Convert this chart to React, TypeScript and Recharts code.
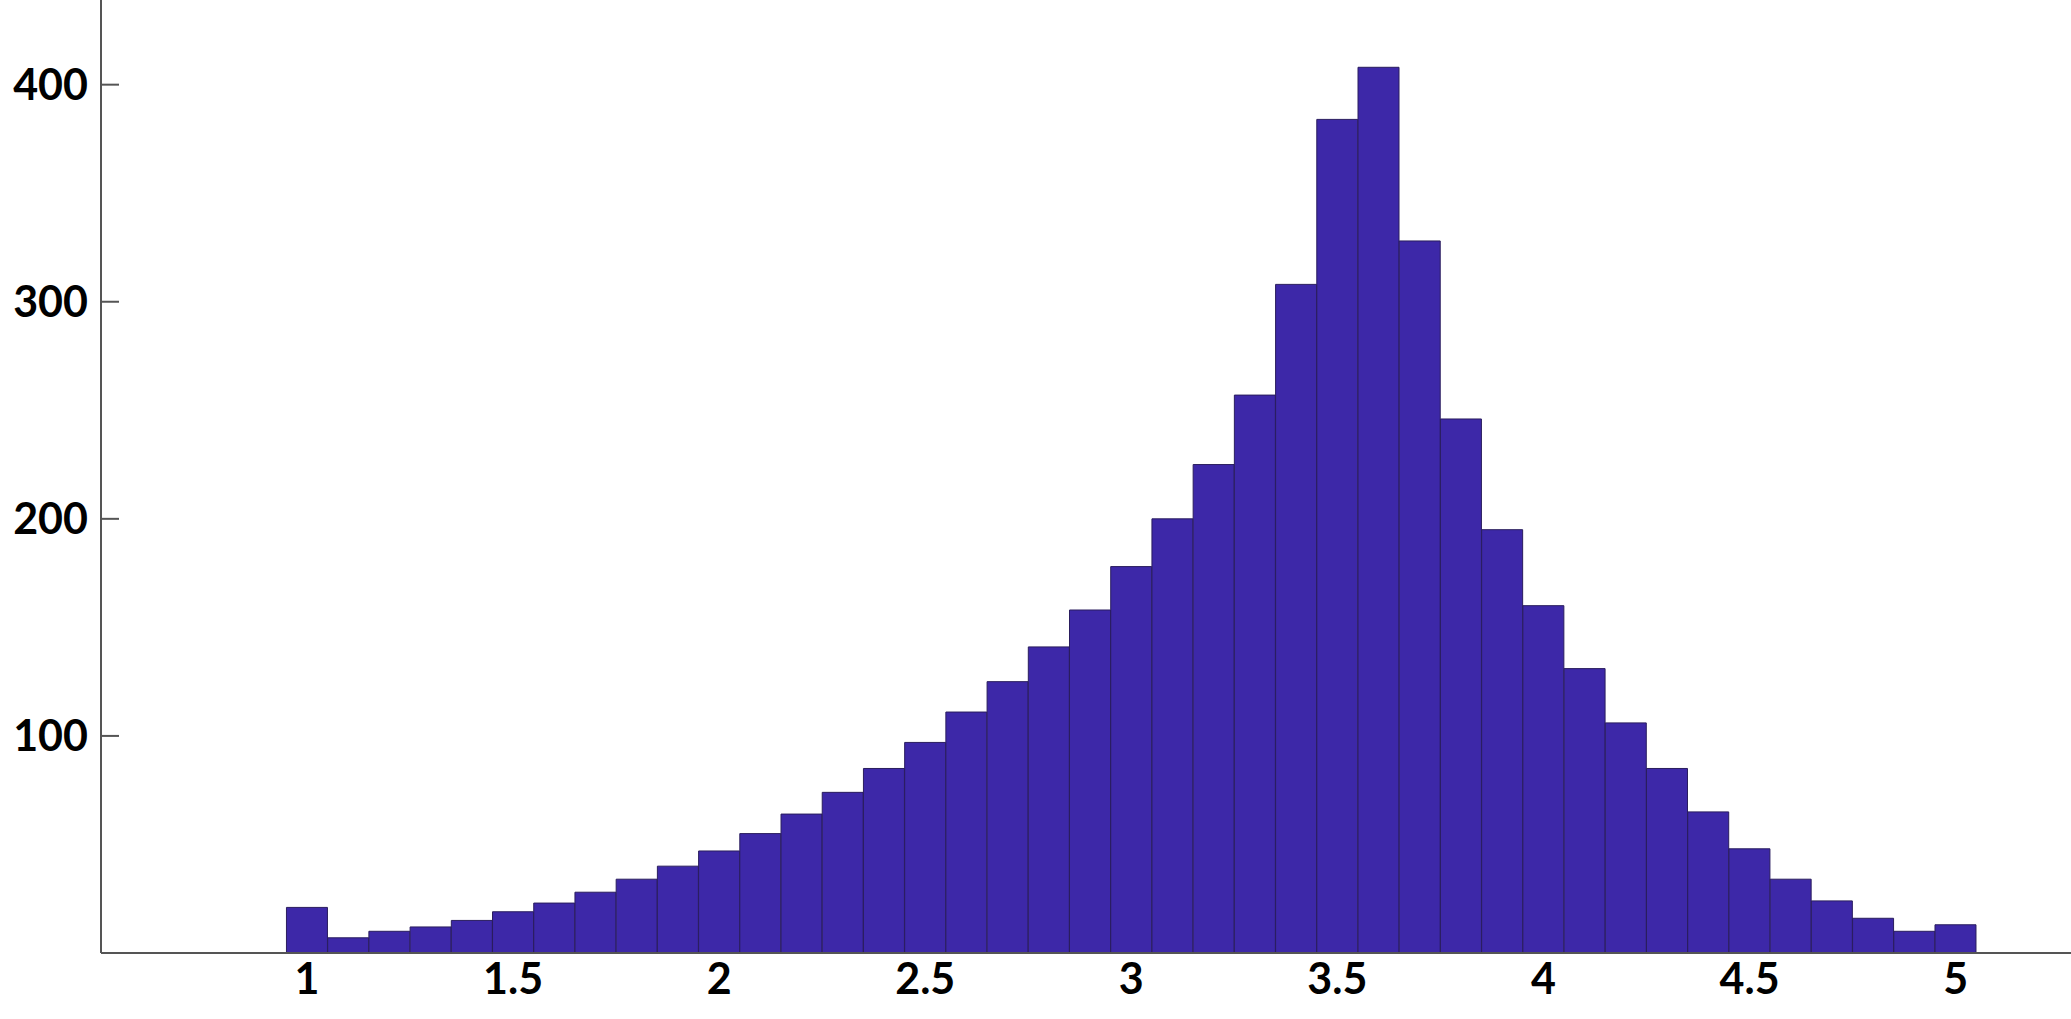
import { BarChart, Bar, XAxis, YAxis } from 'recharts';

// histogram bins (centres, width 0.1) and their counts
const binCenters = [
  1.0, 1.1, 1.2, 1.3, 1.4, 1.5, 1.6, 1.7, 1.8, 1.9,
  2.0, 2.1, 2.2, 2.3, 2.4, 2.5, 2.6, 2.7, 2.8, 2.9,
  3.0, 3.1, 3.2, 3.3, 3.4, 3.5, 3.6, 3.7, 3.8, 3.9,
  4.0, 4.1, 4.2, 4.3, 4.4, 4.5, 4.6, 4.7, 4.8, 4.9,
  5.0,
];
const counts = [
  21, 7, 10, 12, 15, 19, 23, 28, 34, 40,
  47, 55, 64, 74, 85, 97, 111, 125, 141, 158,
  178, 200, 225, 257, 308, 384, 408, 328, 246, 195,
  160, 131, 106, 85, 65, 48, 34, 24, 16, 10,
  13,
];
const xTicks = [1, 1.5, 2, 2.5, 3, 3.5, 4, 4.5, 5];
const yTicks = [100, 200, 300, 400];

const data = binCenters.map((bin, i) => ({ bin, count: counts[i] }));

const tickStyle = {
  fontFamily: 'Lato, "Open Sans", sans-serif',
  fontWeight: 700,
  fontSize: 43,
  fill: '#000',
};

export default function App() {
  return (
    <div style={{ position: 'absolute', left: 0, top: 0, width: 2071, height: 1019, background: '#fff' }}>
      <BarChart
        width={2071}
        height={1019}
        data={data}
        margin={{ top: 0, right: 0, bottom: 0, left: 0 }}
        barCategoryGap={0}
        barGap={0}
      >
        <XAxis
          type="number"
          dataKey="bin"
          domain={[0.5, 5.28]}
          ticks={xTicks}
          allowDataOverflow
          height={66}
          tickLine={false}
          tickSize={0}
          tickMargin={10}
          axisLine={{ stroke: '#555', strokeWidth: 2 }}
          tick={tickStyle}
        />
        <YAxis
          type="number"
          domain={[0, 439]}
          ticks={yTicks}
          allowDataOverflow
          width={101}
          tickSize={-18}
          tickMargin={31}
          tickLine={{ stroke: '#555', strokeWidth: 2 }}
          axisLine={{ stroke: '#555', strokeWidth: 2 }}
          tick={tickStyle}
        />
        <Bar
          dataKey="count"
          fill="#3d28a8"
          stroke="#2a1d5e"
          strokeWidth={1}
          isAnimationActive={false}
        />
      </BarChart>
    </div>
  );
}
